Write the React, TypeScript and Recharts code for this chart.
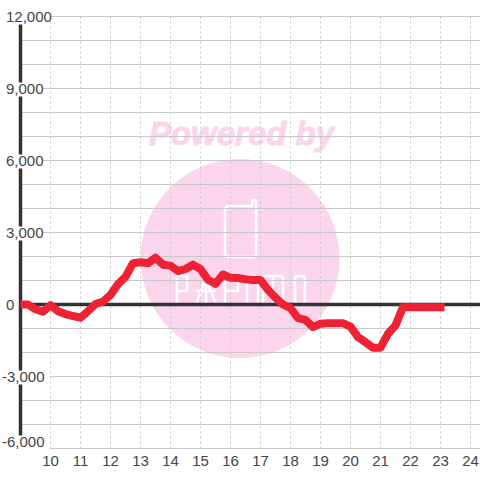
import { CartesianGrid, Line, LineChart, ReferenceLine, XAxis, YAxis } from 'recharts'

// 15分刻み 9:00 - 23:00
const hours = [
  9, 9.25, 9.5, 9.75, 10, 10.25, 10.5, 10.75, 11, 11.25, 11.5, 11.75, 12, 12.25, 12.5, 12.75,
  13, 13.25, 13.5, 13.75, 14, 14.25, 14.5, 14.75, 15, 15.25, 15.5, 15.75, 16, 16.25, 16.5, 16.75,
  17, 17.25, 17.5, 17.75, 18, 18.25, 18.5, 18.75, 19, 19.25, 19.5, 19.75, 20, 20.25, 20.5, 20.75,
  21, 21.25, 21.5, 21.75, 22, 22.25, 22.5, 22.75, 23,
]
const balance = [
  0, 0, -200, -300, -30, -280, -400, -480, -550, -280, 20, 120, 400, 850, 1150, 1720,
  1760, 1720, 1950, 1660, 1620, 1390, 1480, 1660, 1480, 1030, 860, 1250, 1110, 1100, 1050, 1020,
  1020, 610, 280, 0, -150, -570, -640, -940, -800, -780, -780, -780, -920, -1360, -1570, -1800,
  -1800, -1220, -870, -110, -110, -110, -110, -110, -110,
]
const xTicks = [10, 11, 12, 13, 14, 15, 16, 17, 18, 19, 20, 21, 22, 23, 24]
const yTicks = [-6000, -3000, 0, 3000, 6000, 9000, 12000]
const yGrid = [
  -6000, -5000, -4000, -3000, -2000, -1000, 0, 1000, 2000, 3000, 4000, 5000, 6000, 7000, 8000,
  9000, 10000, 11000, 12000,
]

const data = hours.map((hour, i) => ({ hour, balance: balance[i] }))

const FONT = '"Liberation Sans", Arial, sans-serif'
const PINK = '#fbd5ec'

function YTick({ y, payload }: any) {
  const label = payload.value.toLocaleString('en-US')
  // 一番下のラベルだけ枠内に収める
  const cy = payload.value === -6000 ? y - 7 : y
  const w = label.length * 7.6
  return (
    <g>
      <rect x={2} y={cy - 6} width={w + 2} height={14} fill="#fff" />
      <text x={payload.value < 0 ? 2 : 6} y={cy + 5.5} fontSize={15} fontFamily={FONT} fill="#444">
        {label}
      </text>
    </g>
  )
}

function Watermark() {
  return (
    <svg width={480} height={480} style={{ position: 'absolute', left: 0, top: 0 }}>
      <circle cx={240} cy={258.5} r={99.5} fill={PINK} />
      <text
        x={241.5}
        y={145}
        textAnchor="middle"
        fontSize={33}
        fontWeight="bold"
        fontStyle="italic"
        fontFamily={FONT}
        fill={PINK}
        stroke={PINK}
        strokeWidth={1}
      >
        Powered by
      </text>
      <g fill="none" stroke="#fff" strokeWidth={2.5}>
        <path d="M229 206 H252 V202 Q252 200 254 200 Q256 200 256 202 V253 Q256 257 252 257 H229 Q225 257 225 253 V210 Q225 206 229 206 Z" />
        <path d="M177 304 V276 H187 V291 H177" />
        <path d="M196 304 L206 278 L216 304 M196 291 H216 M206 278 V304" />
        <path d="M225 304 V276 H238 V291 H225" />
        <path d="M247 304 V279 Q247 276 250 276 H255 Q258 276 258 279 V304" />
        <path d="M263 304 V279 Q263 276 266 276 H280 Q283 276 283 279 V304 M273 276 V304" />
        <path d="M295 304 V279 Q295 276 298 276 H302 Q305 276 305 279 V301 Q305 304 302 304 H298 Q295 304 295 301 Z" />
      </g>
    </svg>
  )
}

export default function App() {
  return (
    <div style={{ position: 'absolute', left: 0, top: 0, width: 480, height: 480, background: '#fff' }}>
      <Watermark />
      <div style={{ position: 'absolute', left: 0, top: 0 }}>
        <LineChart width={480} height={480} data={data} margin={{ top: 16.5, right: 0, bottom: 0, left: 0 }}>
          <CartesianGrid
            horizontalValues={yGrid}
            verticalValues={xTicks}
            horizontal={({ x1, x2, y1, y2, key }: any) => (
              <line key={key} x1={x1} x2={x2} y1={y1} y2={y2} stroke="#c8c8c8" strokeWidth={1} />
            )}
            vertical={({ x1, x2, y1, y2, key }: any) => (
              <line key={key} x1={x1} x2={x2} y1={y1} y2={y2} stroke="#c8c8c8" strokeWidth={1} strokeDasharray="2 3" />
            )}
          />
          <XAxis
            dataKey="hour"
            type="number"
            domain={[9, 24.317]}
            ticks={xTicks}
            height={31.5}
            axisLine={false}
            tickLine={false}
            interval={0}
            tick={{ fontSize: 15, fontFamily: FONT, fill: '#444' }}
            tickMargin={1}
            allowDataOverflow
          />
          <ReferenceLine y={0} stroke="#333" strokeWidth={3.5} />
          <ReferenceLine x={9} stroke="#333" strokeWidth={3.5} />
          <YAxis
            width={20.5}
            type="number"
            domain={[-6000, 12000]}
            ticks={yTicks}
            interval={0}
            axisLine={false}
            tickLine={false}
            tick={YTick}
            allowDataOverflow
          />
          <Line
            dataKey="balance"
            type="linear"
            stroke="#ee2233"
            strokeWidth={8}
            strokeLinecap="square"
            strokeLinejoin="round"
            dot={false}
            isAnimationActive={false}
          />
        </LineChart>
      </div>
    </div>
  )
}
